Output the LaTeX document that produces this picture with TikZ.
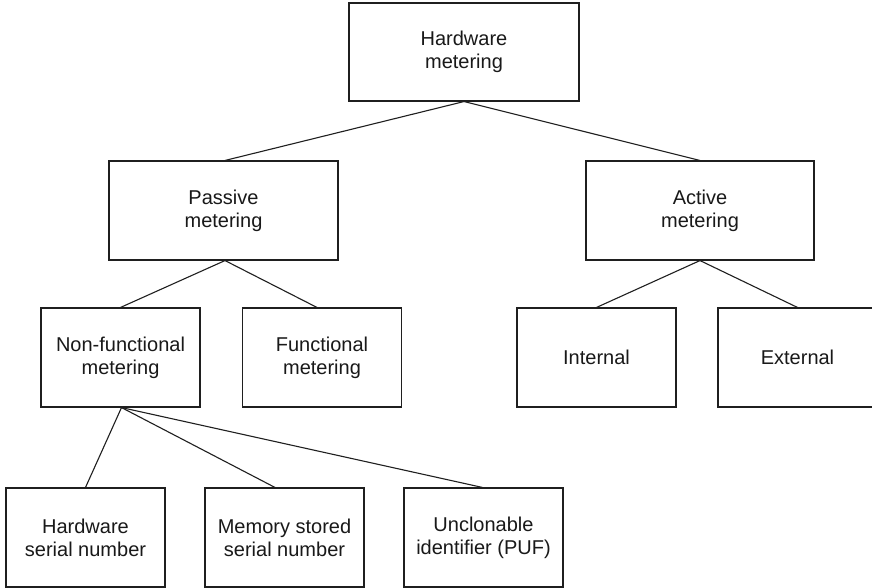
\documentclass[tikz,border=0pt]{standalone}
\usepackage{fontspec}
\setmainfont{Liberation Sans}
\begin{document}
\begin{tikzpicture}[x=1pt,y=-1pt,
  box/.style={draw=black!88, line width=1.1pt, rectangle, inner sep=0pt,
    align=center, font=\fontsize{20}{23}\selectfont, text=black!90,
    minimum height=99pt},
  wide/.style={box, minimum width=229pt},
  narrow/.style={box, minimum width=159pt},
  link/.style={draw=black!88, line width=1.1pt}]
  \useasboundingbox (0,0) rectangle (872,587);
  \clip (0,0) rectangle (872,587);
  \fill[white] (0,0) rectangle (872,587);

  % root
  \node[box, minimum width=230pt, minimum height=98pt] (root) at (464,52) {Hardware\\metering};
  % second level
  \node[wide] (pas) at (223.5,210.5) {Passive\\metering};
  \node[wide, minimum width=228pt] (act) at (700,210.5) {Active\\metering};
  % third level
  \node[narrow] (nonf) at (120.5,357.5) {Non-functional\\metering};
  \node[narrow] (fun)  at (322,357.5)   {Functional\\metering};
  \node[narrow] (int)  at (596.5,357.5) {Internal};
  \node[narrow] (ext)  at (797.5,357.5) {External};
  % fourth level
  \node[narrow] (hsn) at (85.5,537.5)  {Hardware\\serial number};
  \node[narrow] (msn) at (284.5,537.5) {Memory stored\\serial number};
  \node[narrow] (puf) at (483.5,537.5) {Unclonable\\identifier (PUF)};

  % tree links
  \draw[link] (root.south) -- ([xshift=1.5pt]pas.north);
  \draw[link] (root.south) -- (act.north);
  \draw[link] ([xshift=1.5pt]pas.south) -- (nonf.north);
  \draw[link] ([xshift=1.5pt]pas.south) -- ([xshift=-5pt]fun.north);
  \draw[link] (act.south) -- (int.north);
  \draw[link] (act.south) -- (ext.north);
  \draw[link] ([xshift=1pt]nonf.south) -- (hsn.north);
  \draw[link] ([xshift=1pt]nonf.south) -- ([xshift=-9.5pt]msn.north);
  \draw[link] ([xshift=1pt]nonf.south) -- ([xshift=-1pt]puf.north);
\end{tikzpicture}
\end{document}
